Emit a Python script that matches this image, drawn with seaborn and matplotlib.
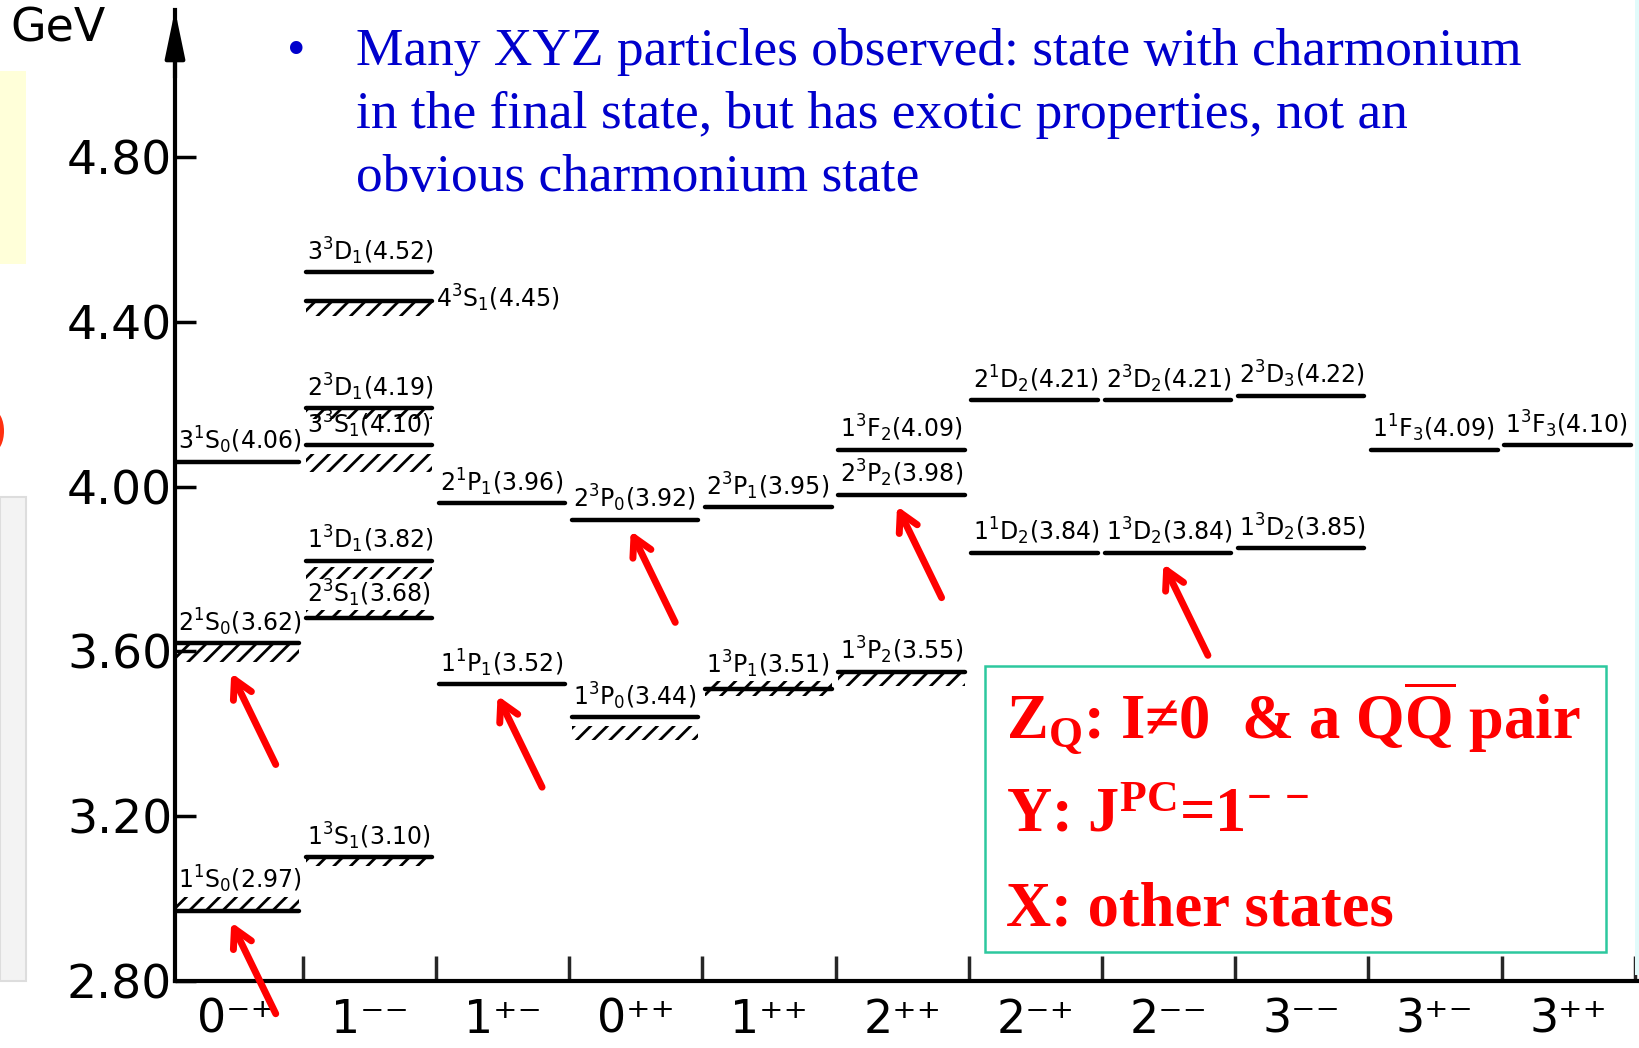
import numpy as np
import pandas as pd
import matplotlib
matplotlib.use("Agg")
import matplotlib.pyplot as plt
import seaborn as sns
from matplotlib.patches import Rectangle, Ellipse

# ---------------- data ----------------
jpc_labels = ["0⁻⁺", "1⁻⁻", "1⁺⁻", "0⁺⁺", "1⁺⁺", "2⁺⁺", "2⁻⁺", "2⁻⁻", "3⁻⁻", "3⁺⁻", "3⁺⁺"]

# spectroscopic names as (n, 2S+1, L, J)
level_n = ["3", "2", "1",
           "3", "4", "2", "3", "1", "2", "1",
           "2", "1",
           "2", "1",
           "2", "1",
           "1", "2", "1",
           "2", "1",
           "2", "1",
           "2", "1",
           "1",
           "1"]
level_spin = ["1", "1", "1",
              "3", "3", "3", "3", "3", "3", "3",
              "1", "1",
              "3", "3",
              "3", "3",
              "3", "3", "3",
              "1", "1",
              "3", "3",
              "3", "3",
              "1",
              "3"]
level_L = ["S", "S", "S",
           "D", "S", "D", "S", "D", "S", "S",
           "P", "P",
           "P", "P",
           "P", "P",
           "F", "P", "P",
           "D", "D",
           "D", "D",
           "D", "D",
           "F",
           "F"]
level_J = ["0", "0", "0",
           "1", "1", "1", "1", "1", "1", "1",
           "1", "1",
           "0", "0",
           "1", "1",
           "2", "2", "2",
           "2", "2",
           "2", "2",
           "3", "2",
           "3",
           "3"]
level_mass = [4.06, 3.62, 2.97,
              4.52, 4.45, 4.19, 4.10, 3.82, 3.68, 3.10,
              3.96, 3.52,
              3.92, 3.44,
              3.95, 3.51,
              4.09, 3.98, 3.55,
              4.21, 3.84,
              4.21, 3.84,
              4.22, 3.85,
              4.09,
              4.10]
level_jpc = [0, 0, 0,
             1, 1, 1, 1, 1, 1, 1,
             2, 2,
             3, 3,
             4, 4,
             5, 5, 5,
             6, 6,
             7, 7,
             8, 8,
             9,
             10]

# levels pointed at by the red arrows (indices into the lists above)
arrow_targets = [2, 1, 11, 12, 17, 22]

yticks = [2.80, 3.20, 3.60, 4.00, 4.40, 4.80]

bullet_lines = ["Many XYZ particles observed: state with charmonium",
                "in the final state, but has exotic properties, not an",
                "obvious charmonium state"]

box_lines = [r"Z$_{\mathrm{Q}}$: I≠0  & a Q$\overline{\mathrm{Q}}$ pair",
             r"Y: J$^{\mathrm{PC}}$=1$^{\mathrm{-\,-}}$",
             "X: other states"]

# ---------------- styles ----------------
# hatch (threshold) decoration per level: (side, height in GeV, gap)
hatch_style = {2: ("above", 0.035, 0.0),
               1: ("below", 0.045, 0.0),
               4: ("below", 0.035, 0.0),
               5: ("below", 0.02, 0.005),
               6: ("below", 0.045, 0.02),
               7: ("below", 0.03, 0.015),
               8: ("above", 0.02, 0.0),
               9: ("below", 0.02, 0.0),
               13: ("below", 0.035, 0.02),
               15: ("both", 0.018, 0.0),
               18: ("below", 0.03, 0.005)}
label_right = {4}

sns.set_theme(style="ticks")
plt.rcParams["font.family"] = ["DejaVu Sans"]
plt.rcParams["hatch.linewidth"] = 2.0
plt.rcParams["mathtext.fontset"] = "custom"
plt.rcParams["mathtext.rm"] = "Liberation Serif:bold"
plt.rcParams["mathtext.it"] = "Liberation Serif:bold"
plt.rcParams["mathtext.bf"] = "Liberation Serif:bold"

W, H = 1640, 1048
fig = plt.figure(figsize=(W / 100, H / 100), dpi=100)
fig.patch.set_facecolor("white")

# axes placement: y-axis at x=175px, x-axis at y=981px, arrow top at y=10px
ax_left, ax_bottom = 175, 981
ax = fig.add_axes([ax_left / W, (H - ax_bottom) / H, (W - ax_left) / W, (ax_bottom - 10) / H])
ax.set_facecolor("none")
xmin, xmax = 0.039, 11.04
ymin, ymax = 2.80, 5.157
ax.set_xlim(xmin, xmax)
ax.set_ylim(ymin, ymax)

# ---------------- left-edge decorations ----------------
fig.patches.append(Rectangle((0, 1 - 264 / H), 26 / W, (264 - 71) / H, transform=fig.transFigure,
                             facecolor="#FFFFD9", edgecolor="none", zorder=0))
fig.patches.append(Rectangle((0, 1 - 981 / H), 26 / W, (981 - 497) / H, transform=fig.transFigure,
                             facecolor="#F3F3F3", edgecolor="#DDDDDD", lw=1.5, zorder=0))
fig.patches.append(Ellipse((-6 / W, 1 - 431 / H), 20 / W, 40 / H, transform=fig.transFigure,
                           facecolor="#FF3010", edgecolor="none", zorder=0))
fig.patches.append(Rectangle((1635 / W, 1 - 975 / H), 5 / W, 975 / H, transform=fig.transFigure,
                             facecolor="#E2FBFB", edgecolor="none", zorder=0))

# ---------------- level lines via seaborn ----------------
x0 = [max(j + 0.02, xmin) for j in level_jpc]
x1 = [j + 0.97 for j in level_jpc]
df = pd.DataFrame({
    "level": list(range(len(level_mass))) * 2,
    "x": x0 + x1,
    "mass": level_mass * 2,
})
sns.lineplot(data=df, x="x", y="mass", units="level", estimator=None,
             color="black", lw=3.2, legend=False, ax=ax, zorder=3)

# hatched thresholds
for i, (side, hh, gap) in hatch_style.items():
    xs = np.array([x0[i], x1[i]])
    m = level_mass[i]
    spans = []
    if side in ("below", "both"):
        spans.append((m - gap - hh, m - gap))
    if side in ("above", "both"):
        spans.append((m + gap, m + gap + hh))
    for lo, hi in spans:
        ax.fill_between(xs, lo, hi, facecolor="none", edgecolor="black",
                        hatch="//", linewidth=0, zorder=2)

# level labels
lab_kw = dict(fontsize=17, color="black", math_fontfamily="dejavusans")
for i, m in enumerate(level_mass):
    j = level_jpc[i]
    txt = (f"{level_n[i]}$^{{{level_spin[i]}}}${level_L[i]}$_{{{level_J[i]}}}$"
           f"({m:.2f})")
    if i in label_right:
        ax.annotate(txt, (x1[i], m), xytext=(3, 2), textcoords="offset points",
                    ha="left", va="center", **lab_kw)
        continue
    ybase = m
    dy = 4
    st = hatch_style.get(i)
    if st and st[0] in ("above", "both"):
        ybase = m + st[2] + st[1]
        dy = 1
    ax.annotate(txt, (j + 0.03 if j > 0 else 0.065, ybase), xytext=(0, dy),
                textcoords="offset points", ha="left", va="bottom", **lab_kw)

# red arrows
for i in arrow_targets:
    m = level_mass[i]
    st = hatch_style.get(i)
    if st and st[0] in ("below", "both"):
        m = m - st[2] - st[1]
    ax.annotate("", xy=(level_jpc[i] + 0.42, m), xytext=(36, -74),
                textcoords="offset points",
                arrowprops=dict(arrowstyle="->,head_length=1.1,head_width=0.6",
                                color="#FF0000", lw=5, shrinkA=0, shrinkB=9,
                                capstyle="round", joinstyle="round"),
                zorder=5)

# ---------------- axes styling ----------------
for s in ["top", "right"]:
    ax.spines[s].set_visible(False)
for s in ["left", "bottom"]:
    ax.spines[s].set_linewidth(3)
    ax.spines[s].set_color("black")

ax.set_yticks(yticks)
ax.set_yticklabels([f"{v:.2f}" for v in yticks])
ax.tick_params(axis="y", direction="in", length=15, width=2.5, pad=2,
               labelsize=34, colors="black")

ax.set_xticks(np.arange(1, 12))
ax.set_xticklabels([])
ax.tick_params(axis="x", which="major", direction="in", length=18, width=2.5)
ax.set_xticks(np.arange(len(jpc_labels)) + 0.5, minor=True)
ax.set_xticklabels(jpc_labels, minor=True)
ax.tick_params(axis="x", which="minor", length=0, pad=12, labelsize=33, colors="black")
ax.set_xlabel("")
ax.set_ylabel("")

# y-axis arrow head
ax.annotate("", xy=(0, 1), xytext=(0, 0.93), xycoords="axes fraction",
            arrowprops=dict(arrowstyle="-|>,head_length=2.4,head_width=0.5",
                            color="black", lw=3, shrinkA=0, shrinkB=0),
            annotation_clip=False)

fig.text(10 / W, 1 - 29 / H, "GeV", fontsize=33, va="center", ha="left", color="black")

# ---------------- blue bullet text ----------------
blue = "#0000CC"
fig.text(287 / W, 1 - 65 / H, "•", fontsize=38, family="Liberation Serif", color=blue,
         va="baseline", ha="left")
for k, line in enumerate(bullet_lines):
    fig.text(356 / W, 1 - (65 + 63 * k) / H, line, fontsize=38.4, family="Liberation Serif",
             color=blue, va="baseline", ha="left")

# ---------------- red box ----------------
fig.patches.append(Rectangle((985 / W, 1 - 952 / H), (1606 - 985) / W, (952 - 666) / H,
                             transform=fig.transFigure, facecolor="white",
                             edgecolor="#2DC89E", lw=1.8, zorder=4))
for k, line in enumerate(box_lines):
    fig.text(1006 / W, 1 - (739 + 93 * k) / H, line, fontsize=45, family="Liberation Serif",
             fontweight="bold", color="#FF0000", va="baseline", ha="left", zorder=6)

fig.savefig("out.png", dpi=100)
